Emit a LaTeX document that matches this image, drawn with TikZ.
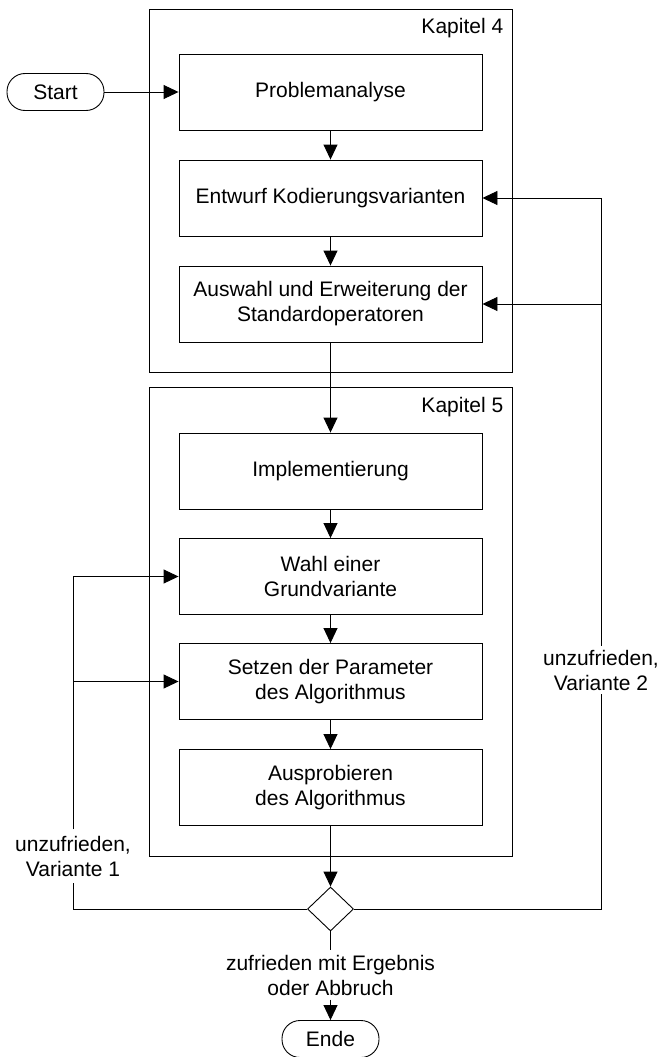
\documentclass[tikz,border=0pt]{standalone}
\usepackage{fontspec}
\setmainfont{Liberation Sans}
\usetikzlibrary{arrows.meta,shapes.geometric}
\begin{document}
\begin{tikzpicture}[x=1pt,y=-1pt,
  font=\fontsize{21}{25}\selectfont,
  line width=0.9pt,
  stepbox/.style={draw, minimum width=303pt, minimum height=76pt, align=center, inner sep=2pt},
  chapter/.style={draw, minimum width=363pt, inner sep=0pt},
  terminal/.style={draw, rounded corners=18pt, minimum width=97pt, minimum height=37pt, inner sep=0pt},
  decision/.style={draw, diamond, minimum width=46pt, minimum height=44pt, inner sep=0pt, aspect=1},
  note/.style={fill=white, align=center, inner xsep=3pt},
  arr/.style={-{Triangle[length=15pt,width=14pt]}}
]
\useasboundingbox (0,0) rectangle (659,1057);

% chapter frames
\node[chapter, minimum height=363pt] (ch4) at (330.5,190.5) {};
\node[chapter, minimum height=469pt] (ch5) at (330.5,621.5) {};
\node[anchor=base east] (k4) at (507,34) {Kapitel 4};
\node[anchor=base east] (k5) at (507,412) {Kapitel 5};

% terminals
\node[terminal] (start) at (55.5,92) {Start};
\node[terminal] (ende) at (330.5,1039) {Ende};

% process steps
\node[stepbox] (problem) at (330.5,92) {Problemanalyse};
\node[stepbox] (entwurf) at (330.5,198) {Entwurf Kodierungsvarianten};
\node[stepbox] (auswahl) at (330.5,304) {Auswahl und Erweiterung der\\Standardoperatoren};
\node[stepbox] (impl) at (330.5,471) {Implementierung};
\node[stepbox] (wahl) at (330.5,576.5) {Wahl einer\\Grundvariante};
\node[stepbox] (setzen) at (330.5,681.5) {Setzen der Parameter\\des Algorithmus};
\node[stepbox] (auspro) at (330.5,787.5) {Ausprobieren\\des Algorithmus};

% decision
\node[decision] (dec) at (330.5,909) {};

% branch labels
\node[note, inner ysep=6pt] (v1) at (73,856) {unzufrieden,\\Variante 1};
\node[note, inner ysep=3.5pt] (v2) at (601,670) {unzufrieden,\\Variante 2};
\node[note, inner ysep=4pt] (ok) at (330.5,975) {zufrieden mit Ergebnis\\oder Abbruch};

% main flow
\draw[arr] (start.east) -- (problem.west);
\draw[arr] (problem.south) -- (entwurf.north);
\draw[arr] (entwurf.south) -- (auswahl.north);
\draw[arr] (auswahl.south) -- (impl.north);
\draw[arr] (impl.south) -- (wahl.north);
\draw[arr] (wahl.south) -- (setzen.north);
\draw[arr] (setzen.south) -- (auspro.north);
\draw[arr] (auspro.south) -- (dec.north);

% exit
\draw (dec.south) -- (ok.north);
\draw[arr] (ok.south) -- (ende.north);

% loop back, variant 1
\draw (dec.west) -| (v1.south);
\draw[arr] (v1.north) |- (wahl.west);
\draw[arr] (v1.north |- setzen.west) -- (setzen.west);

% loop back, variant 2
\draw (dec.east) -| (v2.south);
\draw[arr] (v2.north) |- (entwurf.east);
\draw[arr] (v2.north |- auswahl.east) -- (auswahl.east);
\end{tikzpicture}
\end{document}
